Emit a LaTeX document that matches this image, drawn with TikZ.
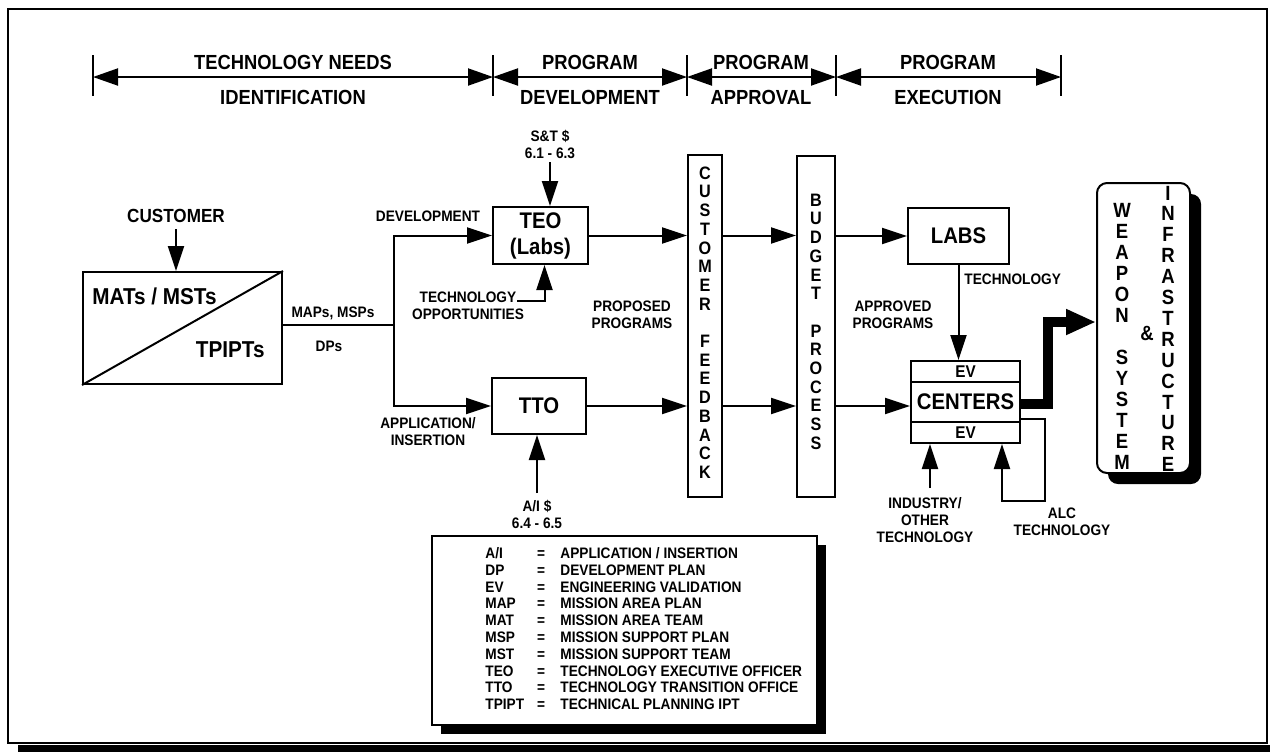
\documentclass[tikz,border=0pt]{standalone}
\usepackage{fontspec}
\setmainfont{Liberation Sans}[FakeStretch=0.9]
\usetikzlibrary{arrows.meta,shadows}

\begin{document}
\begin{tikzpicture}[x=0.5pt,y=-0.5pt,
    box/.style={draw,line width=1pt,inner sep=0pt,align=center,font=\bfseries\fontsize{11.3}{13}\selectfont},
    bar/.style={draw,line width=1pt,inner sep=0pt},
    lbl/.style={inner sep=0pt,align=center,font=\bfseries\fontsize{7.6}{8.5}\selectfont},
    head/.style={inner sep=0pt,font=\bfseries\fontsize{10.2}{12}\selectfont},
    vlet/.style={inner sep=0pt,font=\bfseries\fontsize{9}{10}\selectfont},
    wlet/.style={inner sep=0pt,font=\bfseries\fontsize{10.3}{12}\selectfont},
    legtxt/.style={inner sep=0pt,text height=5.5pt,text depth=0pt,font=\bfseries\fontsize{7.6}{8.5}\selectfont},
    flow/.style={line width=1pt,-{Triangle[length=12.5pt,width=8pt]}},
    span/.style={line width=1pt,{Triangle[length=12.5pt,width=8.5pt]}-{Triangle[length=12.5pt,width=8.5pt]}}]

\useasboundingbox (0,0) rectangle (1270,752);
\fill (18,745) rectangle (1270,752);
\draw[line width=1pt] (8,9) rectangle (1267,743);

% phases along the top
\foreach \x [count=\i] in {93,493,687,836,1061}
  {\coordinate (t\i) at (\x,77);
   \draw[line width=1pt] (\x,55) -- (\x,96);}
\draw[span] (t1) -- (t2);
\draw[span] (t2) -- (t3);
\draw[span] (t3) -- (t4);
\draw[span] (t4) -- (t5);
\node[head] (h1a) at (293,62) {TECHNOLOGY NEEDS};
\node[head] (h1b) at (293,97) {IDENTIFICATION};
\node[head] (h2a) at (590,62) {PROGRAM};
\node[head] (h2b) at (590,97) {DEVELOPMENT};
\node[head] (h3a) at (761,62) {PROGRAM};
\node[head] (h3b) at (761,97) {APPROVAL};
\node[head] (h4a) at (948,62) {PROGRAM};
\node[head] (h4b) at (948,97) {EXECUTION};

% needs identification
\node[draw,line width=1pt,minimum width=99.5pt,minimum height=56pt] (mat) at (182.5,328) {};
\draw[line width=1pt] (mat.south west) -- (mat.north east);
\node[inner sep=0pt,anchor=west,font=\bfseries\fontsize{11.5}{13}\selectfont] (matA) at (92,296) {MATs / MSTs};
\node[inner sep=0pt,anchor=east,font=\bfseries\fontsize{11.5}{13}\selectfont] (matB) at (265,350) {TPIPTs};
\node[inner sep=0pt,font=\bfseries\fontsize{9.5}{11}\selectfont] (cust) at (176,216) {CUSTOMER};
\draw[flow] ([yshift=-3pt]cust.south) -- (cust.south |- mat.north);
\node[lbl] (maps) at (333,313) {MAPs, MSPs};
\node[lbl] (dps) at (329,346) {DPs};

% program development
\node[box,minimum width=47.5pt,minimum height=28.5pt] (teo) at (540.5,235.5) {TEO\\(Labs)};
\node[box,minimum width=47pt,minimum height=28pt] (tto) at (539,406) {TTO};
\coordinate (split) at (394,325);
\draw[line width=1pt] (mat.east |- split) -- (split);
\draw[flow] (split) |- (teo.west);
\draw[flow] (split) |- (tto.west);
\node[lbl] (dev) at (428,216) {DEVELOPMENT};
\node[lbl] (appins) at (428,432) {APPLICATION/\\INSERTION};
\node[lbl] (st) at (550,144.5) {S\&T \$\\6.1 - 6.3};
\coordinate (sttop) at (550,162);
\draw[flow] (sttop) -- (sttop |- teo.north);
\node[lbl] (techopp) at (468,305.5) {TECHNOLOGY\\OPPORTUNITIES};
\coordinate (tojoin) at (517,301);
\draw[flow] (tojoin) -| ([xshift=2pt]teo.south);
\node[lbl] (ai) at (537,514) {A/I \$\\6.4 - 6.5};
\coordinate (aibot) at (537,493);
\draw[flow] (aibot) -- (aibot |- tto.south);
\node[lbl] (prop) at (632,315) {PROPOSED\\PROGRAMS};

% approval
\node[bar,minimum width=17pt,minimum height=171pt] (cf) at (705,326) {};
\node[bar,minimum width=19pt,minimum height=170.5pt] (bp) at (816,326.5) {};
\foreach \ch [count=\i from 0] in {C,U,S,T,O,M,E,R,{},F,E,E,D,B,A,C,K}
  \node[vlet] (cf\i) at (705,{173+18.7*\i}) {\ch};
\foreach \ch [count=\i from 0] in {B,U,D,G,E,T,{},P,R,O,C,E,S,S}
  \node[vlet] (bp\i) at (816,{200+18.7*\i}) {\ch};
\draw[flow] (teo.east) -- (teo.east -| cf.west);
\draw[flow] (tto.east) -- (tto.east -| cf.west);
\draw[flow] (cf.east |- teo.east) -- (bp.west |- teo.east);
\draw[flow] (cf.east |- tto.east) -- (bp.west |- tto.east);

% execution
\node[box,minimum width=50.5pt,minimum height=28pt] (labs) at (958.5,236) {LABS};
\node[box,minimum width=54.5pt,minimum height=41pt] (centers) at (965.5,402) {CENTERS};
\draw[line width=1pt] (centers.west |- 0,382) -- (centers.east |- 0,382);
\draw[line width=1pt] (centers.west |- 0,422) -- (centers.east |- 0,422);
\node[inner sep=0pt,font=\bfseries\fontsize{8.5}{10}\selectfont] (evtop) at (965.5,371.5) {EV};
\node[inner sep=0pt,font=\bfseries\fontsize{8.5}{10}\selectfont] (evbot) at (965.5,432.5) {EV};
\draw[flow] (bp.east |- labs.west) -- (labs.west);
\draw[flow] (bp.east |- tto.east) -- (centers.west |- tto.east);
\draw[flow] (labs.south) -- (labs.south |- centers.north);
\node[lbl,anchor=west] (labtech) at (964,279) {TECHNOLOGY};
\node[lbl] (appr) at (893,315) {APPROVED\\PROGRAMS};
\node[lbl] (ind) at (925,520) {INDUSTRY/\\OTHER\\TECHNOLOGY};
\coordinate (indtop) at (930,488);
\draw[flow] (indtop) -- (indtop |- centers.south);
\node[lbl] (alc) at (1062,521.5) {ALC\\TECHNOLOGY};
\coordinate (alcturn) at (1045,501);
\draw[flow] (centers.east |- 0,419) -| (alcturn) -| ([xshift=18.25pt]centers.south);

% weapon system & infrastructure
\node[draw,line width=1pt,fill=white,rounded corners=5pt,minimum width=46.5pt,minimum height=145pt,
      drop shadow={shadow xshift=5.5pt,shadow yshift=-5.5pt,fill=black,opacity=1}] (weapon) at (1143.5,328) {};
\foreach \ch [count=\i from 0] in {W,E,A,P,O,N,{},S,Y,S,T,E,M}
  \node[wlet] (ws\i) at (1122,{210+21*\i}) {\ch};
\foreach \ch [count=\i from 0] in {I,N,F,R,A,S,T,R,U,C,T,U,R,E}
  \node[wlet] (in\i) at (1168,{193+20.9*\i}) {\ch};
\node[wlet] (amp) at (1147,333) {\&};
\coordinate (bend) at (1048,322);
\draw[line width=5pt,-{Triangle[length=15pt,width=12pt]}] (centers.east |- 0,404) -| (bend) -- (bend -| weapon.west);

% legend
\node[draw,line width=1pt,fill=white,minimum width=192.5pt,minimum height=94.5pt,
      drop shadow={shadow xshift=4.5pt,shadow yshift=-4.5pt,fill=black,opacity=1}] (legend) at (624.5,630.5) {};
\foreach \ab/\df [count=\i from 0] in {{A/I}/{APPLICATION / INSERTION},DP/DEVELOPMENT PLAN,EV/ENGINEERING VALIDATION,
    MAP/MISSION AREA PLAN,MAT/MISSION AREA TEAM,MSP/MISSION SUPPORT PLAN,MST/MISSION SUPPORT TEAM,
    TEO/TECHNOLOGY EXECUTIVE OFFICER,TTO/TECHNOLOGY TRANSITION OFFICE,TPIPT/TECHNICAL PLANNING IPT}
  {\node[legtxt,anchor=west] (ab\i) at (485,{553+16.8*\i}) {\ab};
   \node[legtxt] (eq\i) at (541,{553+16.8*\i}) {=};
   \node[legtxt,anchor=west] (df\i) at (560,{553+16.8*\i}) {\df};}
\end{tikzpicture}
\end{document}
